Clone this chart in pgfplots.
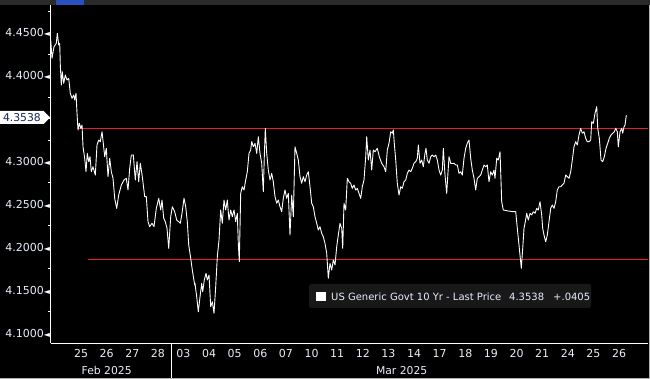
\documentclass[border=0pt]{standalone}
\usepackage{pgfplots}
\pgfplotsset{compat=1.18}
\usepackage{pgfplotstable}
\usepackage{fontspec}
\setmainfont{DejaVu Sans}
\usetikzlibrary{shapes.symbols}
\definecolor{lbl}{RGB}{232,238,250}
\definecolor{redline}{RGB}{232,28,48}
\definecolor{legbg}{RGB}{24,24,24}
\definecolor{tabgrey}{RGB}{42,42,42}
\definecolor{tabblue}{RGB}{40,80,190}
\definecolor{navy}{RGB}{20,40,90}

\pgfplotstableread{
x y
-1.183 4.4415
-1.132 4.4202
-1.054 4.4337
-0.964 4.4376
-0.925 4.4493
-0.870 4.4357
-0.831 4.4376
-0.808 4.4124
-0.769 4.3890
-0.730 4.4045
-0.675 4.3910
-0.613 4.4007
-0.546 4.3949
-0.480 4.3969
-0.418 4.3794
-0.351 4.3735
-0.285 4.3774
-0.246 4.3716
-0.195 4.3794
-0.156 4.3561
-0.117 4.3366
-0.066 4.3444
-0.012 4.3386
0.039 4.3424
0.078 4.3171
0.144 4.3036
0.195 4.2880
0.246 4.3094
0.301 4.2997
0.351 4.3055
0.402 4.2880
0.468 4.2938
0.558 4.2841
0.624 4.3191
0.691 4.3249
0.753 4.3230
0.820 4.3346
0.870 4.3211
0.925 4.3055
0.987 4.3153
1.054 4.2822
1.120 4.3036
1.183 4.2880
1.249 4.2803
1.315 4.2570
1.393 4.2453
1.471 4.2608
1.573 4.2725
1.678 4.2783
1.768 4.2803
1.834 4.2667
1.901 4.2920
1.963 4.3075
2.041 4.3075
2.119 4.2783
2.186 4.2997
2.252 4.2763
2.314 4.2978
2.393 4.2822
2.486 4.2589
2.549 4.2589
2.615 4.2297
2.681 4.2239
2.771 4.2279
2.849 4.2239
2.939 4.2453
3.033 4.2570
3.111 4.2434
3.161 4.2550
3.228 4.2337
3.290 4.2297
3.357 4.2220
3.423 4.1987
3.501 4.2355
3.563 4.2472
3.657 4.2414
3.735 4.2317
3.813 4.2297
3.876 4.2279
3.942 4.2395
4.020 4.2570
4.086 4.2472
4.149 4.2297
4.204 4.2026
4.282 4.1871
4.344 4.1734
4.438 4.1559
4.449 4.1579
4.516 4.1423
4.578 4.1248
4.645 4.1423
4.711 4.1579
4.750 4.1481
4.812 4.1618
4.879 4.1696
4.929 4.1618
4.996 4.1676
5.062 4.1307
5.125 4.1365
5.191 4.1230
5.257 4.1540
5.320 4.1889
5.386 4.2084
5.452 4.2434
5.515 4.2279
5.581 4.2550
5.648 4.2434
5.710 4.2550
5.776 4.2317
5.843 4.2434
5.905 4.2355
5.972 4.2434
6.038 4.2297
6.100 4.2395
6.139 4.2045
6.178 4.1831
6.233 4.2628
6.296 4.2705
6.362 4.2667
6.428 4.2783
6.491 4.2880
6.557 4.3094
6.623 4.3133
6.662 4.3230
6.725 4.3171
6.791 4.3211
6.858 4.3094
6.920 4.3288
6.986 4.3094
7.053 4.2978
7.115 4.2647
7.154 4.3055
7.193 4.3386
7.248 4.3094
7.310 4.2900
7.377 4.2783
7.443 4.2861
7.505 4.2763
7.572 4.2589
7.638 4.2512
7.701 4.2550
7.767 4.2472
7.833 4.2414
7.896 4.2570
7.962 4.2667
8.028 4.2570
8.091 4.2628
8.157 4.2142
8.224 4.2608
8.286 4.2355
8.352 4.3171
8.419 4.3094
8.481 4.3016
8.548 4.2822
8.614 4.2745
8.676 4.2822
8.743 4.2763
8.809 4.2841
8.871 4.2880
8.938 4.2705
9.004 4.2512
9.067 4.2472
9.133 4.2355
9.199 4.2279
9.262 4.2200
9.328 4.2239
9.394 4.2162
9.457 4.2122
9.523 4.2045
9.590 4.1929
9.652 4.1638
9.718 4.1812
9.785 4.1734
9.847 4.1851
9.914 4.1793
9.980 4.2006
10.042 4.2142
10.109 4.2279
10.175 4.2220
10.214 4.1987
10.265 4.2512
10.331 4.2434
10.394 4.2803
10.460 4.2763
10.526 4.2745
10.589 4.2686
10.655 4.2725
10.721 4.2667
10.784 4.2686
10.850 4.2628
10.917 4.2570
10.979 4.2705
11.045 4.2783
11.112 4.3055
11.151 4.3288
11.213 4.3016
11.280 4.3133
11.346 4.2900
11.408 4.3133
11.475 4.3113
11.564 4.3153
11.643 4.3055
11.736 4.2978
11.826 4.2938
11.892 4.2880
11.955 4.3133
12.021 4.3211
12.088 4.3346
12.150 4.3328
12.189 4.3366
12.228 4.3211
12.283 4.3016
12.345 4.2745
12.412 4.2608
12.478 4.2705
12.540 4.2686
12.607 4.2763
12.673 4.2783
12.736 4.2861
12.802 4.2900
12.868 4.2880
12.931 4.2920
12.997 4.2978
13.063 4.2997
13.126 4.3036
13.165 4.3191
13.231 4.2978
13.297 4.3016
13.360 4.2938
13.426 4.3094
13.465 4.3153
13.516 4.3016
13.582 4.2978
13.649 4.3055
13.711 4.3075
13.778 4.3055
13.844 4.3075
13.906 4.3016
13.973 4.2900
14.039 4.2841
14.102 4.2900
14.141 4.3153
14.207 4.2841
14.273 4.2628
14.313 4.2822
14.363 4.3055
14.430 4.2978
14.492 4.2978
14.558 4.2978
14.625 4.2958
14.687 4.2958
14.753 4.2861
14.820 4.2880
14.882 4.2841
14.948 4.3036
15.015 4.3153
15.077 4.3211
15.144 4.3249
15.210 4.3036
15.272 4.2900
15.339 4.2803
15.405 4.2667
15.468 4.2803
15.534 4.2822
15.600 4.2841
15.663 4.2900
15.729 4.2958
15.796 4.2938
15.858 4.2958
15.924 4.2763
15.991 4.2880
16.053 4.2841
16.119 4.2900
16.158 4.2803
16.225 4.3036
16.287 4.3016
16.354 4.3113
16.420 4.2530
16.482 4.2434
16.678 4.2422
16.873 4.2414
16.967 4.2414
17.029 4.2220
17.095 4.2026
17.146 4.1871
17.185 4.1754
17.240 4.1987
17.290 4.2220
17.341 4.2297
17.396 4.2395
17.458 4.2317
17.525 4.2395
17.591 4.2375
17.653 4.2414
17.720 4.2395
17.786 4.2453
17.848 4.2434
17.915 4.2530
17.981 4.2375
18.020 4.2220
18.071 4.2142
18.137 4.2064
18.200 4.2142
18.266 4.2297
18.332 4.2453
18.395 4.2492
18.461 4.2453
18.527 4.2530
18.590 4.2667
18.656 4.2705
18.723 4.2705
18.785 4.2725
18.851 4.2745
18.918 4.2841
18.980 4.2822
19.047 4.2803
19.113 4.2880
19.176 4.3016
19.242 4.3171
19.308 4.3230
19.371 4.3191
19.437 4.3308
19.503 4.3386
19.566 4.3328
19.632 4.3346
19.698 4.3269
19.761 4.3230
19.827 4.3230
19.894 4.3249
19.933 4.3463
19.996 4.3444
20.062 4.3561
20.128 4.3638
20.168 4.3386
20.230 4.3269
20.296 4.3016
20.363 4.2997
20.425 4.3055
20.491 4.3153
20.557 4.3211
20.620 4.3269
20.686 4.3308
20.753 4.3328
20.815 4.3346
20.870 4.3386
20.932 4.3346
20.971 4.3171
21.038 4.3346
21.104 4.3386
21.143 4.3328
21.194 4.3404
21.233 4.3424
21.284 4.3538
}\yieldtable

\begin{document}
\begin{tikzpicture}
\useasboundingbox (0pt,0pt) rectangle (650pt,379pt);
\fill[black] (0pt,0pt) rectangle (650pt,379pt);
\fill[tabgrey] (0pt,374pt) rectangle (650pt,379pt);
\fill[tabblue] (56pt,374pt) rectangle (84pt,379pt);
\begin{axis}[
  at={(50.7pt,35.5pt)}, anchor=south west,
  scale only axis,
  width=597.3pt, height=338.5pt,
  xmin=-1.183, xmax=22.13,
  ymin=4.0878, ymax=4.4823,
  axis x line*=bottom, axis y line*=left,
  axis line style={white, line width=0.8pt, -},
  clip mode=individual,
  xtick={0,1,2,3,4,5,6,7,8,9,10,11,12,13,14,15,16,17,18,19,20,21},
  xticklabels={25,26,27,28,03,04,05,06,07,10,11,12,13,14,17,18,19,20,21,24,25,26},
  ytick={4.10,4.15,4.20,4.25,4.30,4.40,4.45},
  minor ytick={4.125,4.175,4.225,4.275,4.325,4.35,4.375,4.425,4.475},
  /pgf/number format/assume math mode=true,
  yticklabel={\pgfmathprintnumber[fixed,fixed zerofill,precision=4]{\tick}{\fontsize{8}{8}\selectfont\textcolor{white}{◄}}},
  tick label style={font=\fontsize{11}{12}\selectfont, text=lbl},
  yticklabel style={anchor=east, inner sep=0pt, xshift=-0.4pt},
  xticklabel style={anchor=base, inner sep=0pt, yshift=-14.4pt},
  major tick length=0pt, minor tick length=3pt,
  tick align=outside,
  minor tick style={white, line width=0.8pt},
  major tick style={draw=none},
]
\addplot[redline, line width=0.8pt] coordinates {(-0.078,4.3386) (22.13,4.3386)};
\addplot[redline, line width=0.8pt] coordinates {(0.273,4.1862) (22.13,4.1862)};
\addplot[white, line width=0.9pt, line join=round] table[x=x,y=y] {\yieldtable};
\end{axis}
% month separator and labels
\draw[white, line width=0.8pt] (171pt,35.5pt) -- (171pt,0pt);
\node[font=\fontsize{10.8}{12}\selectfont, text=lbl] at (106.7pt,8.3pt) {Feb 2025};
\node[font=\fontsize{10.8}{12}\selectfont, text=lbl] at (401.7pt,8.3pt) {Mar 2025};
% last value flag
\node[signal, signal to=east, fill=white, text=navy, minimum height=13pt, minimum width=50pt, inner sep=1pt, font=\fontsize{10.8}{12}\selectfont, anchor=west] at (0pt,261.5pt) {4.3538};
% legend box
\fill[legbg, rounded corners=2pt] (309pt,71pt) rectangle (591pt,95pt);
\fill[white] (316pt,78.3pt) rectangle (326pt,87.3pt);
\node[font=\fontsize{10}{12}\selectfont, text=lbl, anchor=west, inner sep=0pt] at (331pt,82.6pt) {US Generic Govt 10 Yr - Last Price};
\node[font=\fontsize{10}{12}\selectfont, text=lbl, anchor=west, inner sep=0pt] at (509pt,82.6pt) {4.3538};
\node[font=\fontsize{10}{12}\selectfont, text=lbl, anchor=west, inner sep=0pt] at (553pt,82.6pt) {+.0405};
% border
\draw[gray!60, line width=1pt] (0pt,0.5pt) -- (650pt,0.5pt);
\draw[gray!60, line width=1pt] (649.5pt,0pt) -- (649.5pt,374pt);
\end{tikzpicture}
\end{document}
